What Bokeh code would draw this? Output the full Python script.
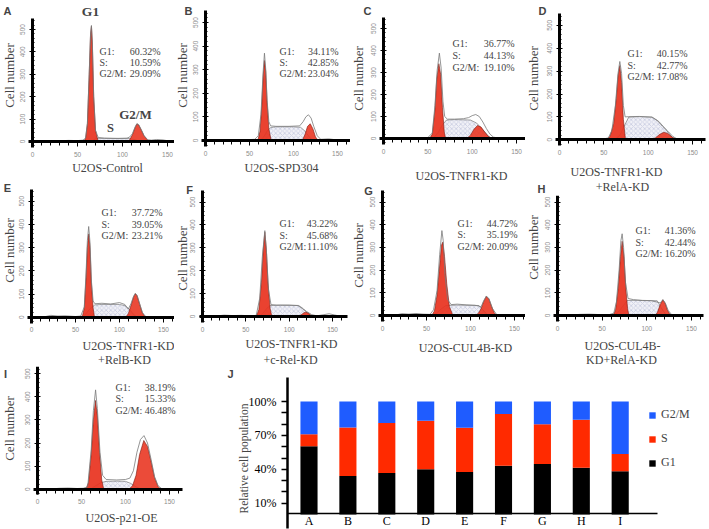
from math import pi
from bokeh.plotting import figure
from bokeh.models import (LinearAxis, SingleIntervalTicker, FixedTicker, Label, Range1d,
                          ColumnDataSource, Legend, LegendItem, PrintfTickFormatter)
from bokeh.layouts import row, column
from bokeh.embed import file_html
from bokeh.resources import INLINE

# ---------------- data ----------------
PANELS = ["A", "B", "C", "D", "E", "F", "G", "H", "I"]
CAPTIONS = {
    "A": ["U2OS-Control"], "B": ["U2OS-SPD304"], "C": ["U2OS-TNFR1-KD"],
    "D": ["U2OS-TNFR1-KD", "+RelA-KD"], "E": ["U2OS-TNFR1-KD", "+RelB-KD"],
    "F": ["U2OS-TNFR1-KD", "+c-Rel-KD"], "G": ["U2OS-CUL4B-KD"],
    "H": ["U2OS-CUL4B-", "KD+RelA-KD"], "I": ["U2OS-p21-OE"],
}
PHASES = ["G1", "S", "G2/M"]
G1_PCT = [60.32, 34.11, 36.77, 40.15, 37.72, 43.22, 44.72, 41.36, 38.19]
S_PCT = [10.59, 42.85, 44.13, 42.77, 39.05, 45.68, 35.19, 42.44, 15.33]
G2M_PCT = [29.09, 23.04, 19.10, 17.08, 23.21, 11.10, 20.09, 16.20, 46.48]
J_TICKS = [10, 40, 70, 100]
J_MINOR = [20, 30, 50, 60, 80, 90]

# DNA-content histograms (channel, cell count)
HIST_A = dict(
    g1x=[57, 59, 61, 63, 64.5, 65.5, 66.5, 68, 70, 73], g1y=[0, 15, 80, 300, 480, 515, 440, 200, 50, 0],
    sx=[66, 70, 80, 95, 108, 114, 120], sy=[0, 14, 14, 13, 13, 8, 0],
    g2x=[105, 108, 111, 114, 116, 118, 121, 124, 128, 131], g2y=[0, 8, 30, 62, 78, 74, 50, 25, 6, 0],
    ox=[12, 20, 30, 40, 50, 56, 59, 61, 63, 64.5, 65.5, 66.5, 68, 70, 73, 80, 95, 105, 108, 111, 114, 116, 118, 121, 124, 128, 132, 138, 145, 152],
    oy=[0, 4, 3, 5, 4, 6, 15, 80, 300, 480, 518, 440, 200, 50, 18, 15, 14, 15, 20, 35, 65, 80, 75, 52, 26, 8, 6, 9, 7, 2])
HIST_B = dict(
    g1x=[59.5, 62, 64, 65.5, 67, 68.5, 70, 72, 74.6], g1y=[0, 40, 150, 270, 339, 290, 160, 50, 0],
    sx=[62, 66, 70, 74, 80, 100, 108, 113, 118, 122], sy=[0, 15, 40, 55, 58, 58, 56, 40, 15, 0],
    g2x=[110, 113, 116, 119, 122, 125, 128], g2y=[0, 25, 60, 71, 50, 15, 0],
    ox=[15, 30, 45, 56, 60, 63, 65.5, 67, 68.5, 70, 72, 74, 80, 95, 107, 111, 114, 117, 120, 123, 127, 131, 140, 148],
    oy=[2, 4, 3, 5, 20, 110, 290, 370, 300, 170, 80, 62, 60, 60, 62, 80, 100, 109, 95, 60, 20, 5, 7, 3])
HIST_C = dict(
    g1x=[52, 55, 58, 60, 62.4, 64.5, 66.5, 68.5, 70], g1y=[0, 20, 130, 270, 340, 290, 140, 30, 0],
    sx=[56, 62, 66, 71, 80, 98, 105, 112, 118, 122], sy=[0, 30, 60, 84, 86, 84, 70, 40, 12, 0],
    g2x=[94, 98, 102, 106, 110, 114, 118, 122], g2y=[0, 15, 42, 59, 52, 30, 10, 0],
    ox=[20, 40, 50, 55, 58, 60.5, 63, 65, 67, 69, 72, 80, 90, 96, 100, 104, 108, 112, 116, 120, 124, 130],
    oy=[2, 3, 4, 25, 150, 310, 388, 320, 170, 100, 88, 88, 90, 95, 104, 109, 100, 75, 45, 20, 6, 2])
HIST_D = dict(
    g1x=[53, 57, 61, 64, 66, 68, 70, 72, 74.4], g1y=[0, 15, 70, 180, 280, 324, 250, 90, 0],
    sx=[62, 68, 73, 78, 90, 104.5, 112, 120, 126, 131], sy=[0, 20, 60, 99, 101, 99, 80, 45, 15, 0],
    g2x=[103, 108, 113, 117.6, 122, 127, 132], g2y=[0, 8, 24, 33, 28, 12, 0],
    ox=[15, 25, 40, 50, 55, 59, 63, 66, 68, 70, 72, 74, 78, 90, 104, 110, 116, 122, 128, 133, 140],
    oy=[2, 5, 3, 4, 8, 40, 150, 290, 342, 290, 150, 100, 101, 102, 99, 85, 60, 38, 14, 3, 2])
HIST_E = dict(
    g1x=[57.6, 60, 62, 63.5, 65, 66.5, 68, 70, 71.6], g1y=[0, 40, 170, 300, 359, 300, 150, 40, 0],
    sx=[58, 62, 66, 72, 80, 100, 106, 111, 116, 120], sy=[0, 15, 35, 53, 55, 55, 50, 35, 12, 0],
    g2x=[107, 110, 113, 116, 118, 120, 123, 126, 129.5], g2y=[0, 15, 50, 88, 101, 92, 55, 18, 0],
    ox=[15, 22, 30, 38, 50, 56, 60, 62, 63.5, 65, 66.5, 68, 70, 72, 80, 90, 100, 106, 110, 113, 116, 118, 120, 123, 126, 130],
    oy=[2, 8, 5, 6, 3, 5, 45, 190, 330, 391, 320, 160, 70, 58, 60, 57, 63, 55, 35, 58, 90, 103, 94, 57, 20, 2])
HIST_F = dict(
    g1x=[62, 65, 68, 70, 71.9, 73.5, 75.5, 78, 80], g1y=[0, 30, 150, 290, 368, 300, 150, 35, 0],
    sx=[66, 70, 74, 78, 90, 111, 116, 121, 126.5], sy=[0, 15, 35, 48, 49, 48, 35, 15, 0],
    g2x=[110, 114, 117, 119, 122, 125, 128], g2y=[0, 8, 16, 19, 15, 6, 0],
    ox=[15, 25, 35, 45, 55, 62, 66, 69, 71.9, 74, 76, 79, 85, 100, 110, 115, 120, 126, 132, 140, 146, 152, 158],
    oy=[2, 6, 4, 5, 3, 5, 80, 260, 375, 270, 120, 52, 50, 50, 48, 35, 22, 8, 3, 8, 12, 7, 2])
HIST_G = dict(
    g1x=[56, 59, 62, 64.5, 67, 68.5, 70.5, 73, 76, 80], g1y=[0, 20, 90, 200, 310, 323, 260, 140, 40, 0],
    sx=[58, 62, 67, 72, 85, 109.5, 114, 120], sy=[0, 12, 30, 44, 46, 44, 25, 0],
    g2x=[105.7, 109, 112, 115, 118, 121, 124, 127, 130], g2y=[0, 10, 30, 62, 84, 72, 40, 12, 0],
    ox=[15, 22, 30, 38, 46, 54, 58, 62, 65, 67.5, 69, 71, 74, 78, 85, 95, 105, 109, 112, 115, 118, 121, 125, 130, 140],
    oy=[2, 8, 6, 9, 6, 5, 25, 110, 270, 374, 330, 180, 70, 48, 50, 47, 45, 42, 38, 65, 86, 74, 30, 3, 2])
HIST_H = dict(
    g1x=[62.3, 65, 68, 70.5, 72.4, 74.5, 76.5, 78.5, 80], g1y=[0, 25, 120, 260, 327, 260, 120, 30, 0],
    sx=[64, 68, 73, 78, 90, 111.6, 116, 122], sy=[0, 15, 40, 66, 67, 65, 35, 0],
    g2x=[109.7, 112, 115, 118, 120.5, 123, 126.5], g2y=[0, 15, 48, 69, 55, 25, 0],
    ox=[15, 25, 35, 42, 50, 58, 63, 66, 69, 71, 72.4, 74, 76, 79, 85, 95, 105, 111, 115, 118, 121, 124, 128, 135],
    oy=[2, 5, 6, 5, 3, 4, 10, 60, 200, 330, 360, 300, 150, 75, 70, 66, 65, 60, 55, 70, 52, 22, 3, 2])
HIST_I = dict(
    g1x=[55, 58, 61, 63.5, 65.9, 68, 70.5, 73, 75.3], g1y=[0, 30, 150, 300, 384, 320, 160, 40, 0],
    sx=[60, 66, 72, 78, 90, 100, 106, 112, 118], sy=[0, 15, 28, 34, 35, 34, 25, 10, 0],
    g2x=[104, 108, 112, 116, 120.8, 125, 129, 133, 137, 140], g2y=[0, 15, 60, 150, 211, 185, 120, 50, 12, 0],
    ox=[15, 25, 35, 45, 52, 57, 61, 63.5, 66, 68, 71, 74, 78, 90, 100, 105, 109, 113, 117, 121, 125, 129, 133, 137, 141, 148],
    oy=[1, 4, 5, 3, 4, 10, 170, 340, 430, 350, 160, 60, 42, 40, 42, 48, 80, 160, 215, 232, 200, 130, 55, 15, 3, 1])
HIST = dict(A=HIST_A, B=HIST_B, C=HIST_C, D=HIST_D, E=HIST_E, F=HIST_F, G=HIST_G, H=HIST_H, I=HIST_I)

# ---------------- layout (page pixels) ----------------
LAYOUT = {
    "A": dict(cell=(0, 174, 0, 177), map=(32, 0.90, 141, 0.224), letters=[("A", 7, 10)], stats=(99, 160, 51, 11), ylab=(8.5, 75), caps=[(107, 167)], xend=159),
    "B": dict(cell=(174, 350, 0, 178), map=(205, 0.88, 140, 0.236), letters=[("B", 188, 10)], stats=(279, 338, 50.7, 11.3), ylab=(182, 75), caps=[(281, 167)], xend=168),
    "C": dict(cell=(350, 525, 0, 183), map=(383, 0.887, 138, 0.22), letters=[("C", 367, 10)], stats=(452, 514, 43.3, 11.7), ylab=(358, 78), caps=[(461, 175)], xend=162),
    "D": dict(cell=(525, 709, 0, 195), map=(559, 0.887, 139.3, 0.229), letters=[("D", 542, 10), ("H", 541, 188)], stats=(627, 687, 53.3, 11.3), ylab=(533, 78), caps=[(616, 171), (622, 186.5)], xend=165),
    "E": dict(cell=(0, 174, 177, 366), map=(31, 0.88, 316.7, 0.232), letters=[("E", 7, 187)], stats=(101, 162, 212.3, 11.4), ylab=(8.5, 250), caps=[(128, 345), (124, 359)], xend=163),
    "F": dict(cell=(174, 350, 178, 366), map=(202, 0.867, 316, 0.229), letters=[("F", 189, 189)], stats=(279, 337, 223.3, 11.2), ylab=(182, 258), caps=[(291, 343), (290, 359)], xend=167),
    "G": dict(cell=(350, 525, 183, 366), map=(382, 0.88, 315, 0.227), letters=[("G", 368, 190.5)], stats=(457, 517, 222.7, 11.5), ylab=(358, 255), caps=[(465, 347)], xend=165),
    "H": dict(cell=(525, 709, 195, 366), map=(557, 0.893, 315, 0.227), letters=[], stats=(635, 695, 230, 11.7), ylab=(533, 247), caps=[(622, 345), (621, 359)], xend=163),
    "I": dict(cell=(0, 200, 366, 529), map=(37, 0.88, 488.7, 0.231), letters=[("I", 5, 373)], stats=(115, 175, 386.5, 11.5), ylab=(8.5, 428), caps=[(121, 517)], xend=165),
}
SERIF = "Liberation Serif"
SANS = "Liberation Sans"
RED = "#e8321e"
BAR_COLORS = ["#000000", "#ff2a00", "#1f5cff"]


def make_fig(w, h, xr, yr):
    p = figure(width=w, height=h, x_range=Range1d(*xr), y_range=Range1d(*yr),
               x_axis_type=None, y_axis_type=None, toolbar_location=None,
               output_backend="svg", min_border=0, title=None)
    p.outline_line_color = None
    p.background_fill_color = "white"
    p.border_fill_color = "white"
    return p


def build_panel(key, idx):
    L = LAYOUT[key]
    hist = HIST[key]
    x0, sxp, y0, syp = L["map"]
    cl, cr, ct, cb = L["cell"]
    dx = lambda px: (px - x0) / sxp
    dy = lambda py: (y0 - py) / syp
    p = make_fig(cr - cl, cb - ct, (dx(cl), dx(cr)), (dy(cb), dy(ct)))

    p.patch(hist["sx"], hist["sy"], fill_color="#f1f1f7", line_color="#666666", line_width=0.6,
            hatch_pattern="x", hatch_color="#9aa0c8", hatch_scale=4.5, hatch_weight=0.5, hatch_alpha=0.75)
    p.patch(hist["g1x"], hist["g1y"], fill_color=RED, fill_alpha=0.92, line_color="#7a1a10", line_width=0.6)
    p.patch(hist["g2x"], hist["g2y"], fill_color=RED, fill_alpha=0.88, line_color="#7a1a10", line_width=0.6)
    p.line(hist["ox"], hist["oy"], line_color="#7a7a7a", line_width=0.8)

    xa = LinearAxis(fixed_location=0, bounds=(-4, L["xend"]),
                    ticker=SingleIntervalTicker(interval=50, num_minor_ticks=5),
                    axis_line_width=3, axis_line_color="black",
                    major_tick_out=5, major_tick_in=0, minor_tick_out=4, minor_tick_in=0,
                    major_tick_line_width=1, minor_tick_line_width=1, major_label_standoff=5,
                    major_label_text_font=SANS, major_label_text_font_size="6.5px",
                    major_label_text_color="#8c8c8c")
    p.add_layout(xa, "below")
    ya = LinearAxis(fixed_location=0.5, bounds=(-25, 550),
                    ticker=SingleIntervalTicker(interval=100, num_minor_ticks=5),
                    axis_line_width=3, axis_line_color="black",
                    major_tick_out=3, major_tick_in=3, minor_tick_out=0, minor_tick_in=2,
                    major_tick_line_width=1, minor_tick_line_width=1,
                    major_label_orientation="vertical", major_label_standoff=5,
                    major_label_text_font=SANS, major_label_text_font_size="6.5px",
                    major_label_text_color="#8c8c8c")
    p.add_layout(ya, "left")

    # panel letters
    for txt, lx, ly in L["letters"]:
        p.add_layout(Label(x=dx(lx), y=dy(ly), text=txt, text_font=SANS, text_font_style="bold",
                           text_font_size="11px", text_align="center", text_baseline="middle"))
    # y-axis title
    yx, yy = L["ylab"]
    p.add_layout(Label(x=dx(yx), y=dy(yy), text="Cell number", angle=pi / 2, text_font=SERIF,
                       text_font_size="13px", text_align="center", text_baseline="middle"))
    # caption
    for (cx, cy), txt in zip(L["caps"], CAPTIONS[key]):
        p.add_layout(Label(x=dx(cx), y=dy(cy), text=txt, text_font=SERIF, text_font_size="12px",
                           text_align="center", text_baseline="middle"))
    # percentages
    lxs, rxs, ty, sp = L["stats"]
    vals = [G1_PCT[idx], S_PCT[idx], G2M_PCT[idx]]
    for j, (ph, v) in enumerate(zip(PHASES, vals)):
        yy_ = dy(ty + j * sp)
        p.add_layout(Label(x=dx(lxs), y=yy_, text=ph + ":", text_font=SERIF, text_font_size="10px",
                           text_align="left", text_baseline="middle"))
        p.add_layout(Label(x=dx(rxs), y=yy_, text=f"{v:.2f}%", text_font=SERIF, text_font_size="10px",
                           text_align="right", text_baseline="middle"))
    if key == "A":
        for txt, (px, py), fs in zip(["G1", "S", "G2/M"], [(90, 11), (110, 127), (135, 114)],
                                     ["13.5px", "12.5px", "13px"]):
            p.add_layout(Label(x=dx(px), y=dy(py), text=txt, text_font=SERIF, text_font_style="bold",
                               text_font_size=fs, text_align="center", text_baseline="middle"))
    return p


figs = {k: build_panel(k, i) for i, k in enumerate(PANELS)}

# ---------------- panel J: stacked bars ----------------
J_X0, J_DX, J_Y0, J_DY = 308.5, 38.9, 514.0, 1.13   # page px of first bar / px per bar, page px of 0% / px per %
jx = lambda px: (px - J_X0) / J_DX + 1
jy = lambda py: (J_Y0 - py) / J_DY
pj = make_fig(509, 163, (jx(200), jx(709)), (jy(529), jy(366)))
bar_x = list(range(1, len(PANELS) + 1))
src = ColumnDataSource(dict(x=bar_x, G1=G1_PCT, S=S_PCT, G2M=G2M_PCT))
rs = pj.vbar_stack(["G1", "S", "G2M"], x="x", width=0.44, fill_color=BAR_COLORS, line_color=None, source=src)

jxa = LinearAxis(fixed_location=1.2, bounds=(jx(287), jx(657)), ticker=FixedTicker(ticks=bar_x),
                 major_label_overrides={b: c for b, c in zip(bar_x, PANELS)},
                 axis_line_width=1.5, axis_line_color="black", major_tick_out=0, major_tick_in=0,
                 minor_tick_out=0, minor_tick_in=0, major_label_standoff=1,
                 major_label_text_font=SERIF, major_label_text_font_size="12px",
                 major_label_text_color="black")
pj.add_layout(jxa, "below")
jya = LinearAxis(fixed_location=jx(287), bounds=(-12, 121),
                 ticker=FixedTicker(ticks=J_TICKS, minor_ticks=J_MINOR),
                 formatter=PrintfTickFormatter(format="%d%%"),
                 axis_line_width=2.5, axis_line_color="black",
                 major_tick_out=6, major_tick_in=0, minor_tick_out=6, minor_tick_in=0,
                 major_tick_line_width=1.5, minor_tick_line_width=1.5, major_label_standoff=5,
                 major_label_text_font=SERIF, major_label_text_font_size="12px",
                 major_label_text_color="black")
pj.add_layout(jya, "left")
pj.add_layout(Label(x=jx(230), y=jy(373), text="J", text_font=SANS, text_font_style="bold",
                    text_font_size="11px", text_align="center", text_baseline="middle"))
pj.add_layout(Label(x=jx(243), y=jy(458), text="Relative cell population", angle=pi / 2,
                    text_font=SERIF, text_font_size="11.5px", text_align="center", text_baseline="middle"))
legend = Legend(items=[LegendItem(label="G2/M", renderers=[rs[2]]),
                       LegendItem(label="S", renderers=[rs[1]]),
                       LegendItem(label="G1", renderers=[rs[0]])],
                location=(448, 59), orientation="vertical", glyph_width=8, glyph_height=8,
                label_standoff=5, label_height=14, spacing=9, padding=0, margin=0,
                border_line_color=None, background_fill_alpha=0,
                label_text_font=SERIF, label_text_font_size="12px")
pj.add_layout(legend)

top = row(column(figs["A"], figs["E"]), column(figs["B"], figs["F"]),
          column(figs["C"], figs["G"]), column(figs["D"], figs["H"]))
layout = column(top, row(figs["I"], pj))

open("out.html", "w").write(file_html(layout, INLINE, title="Cell cycle profiles"))
